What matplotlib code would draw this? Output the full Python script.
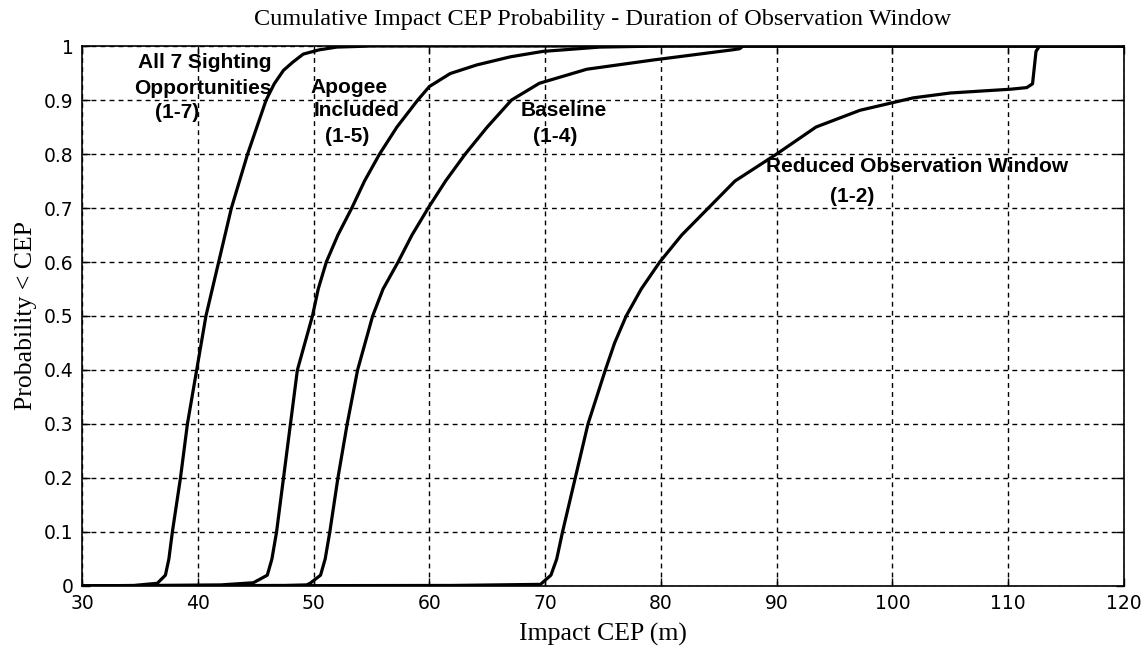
import numpy as np
import matplotlib
matplotlib.use("Agg")
import matplotlib.pyplot as plt

# CDF curves (x = Impact CEP in m, y = probability)
all7_x = [30, 34.5, 36.5, 37.2, 37.5, 37.8, 38.5, 39.1, 39.9, 40.7, 41.8, 42.9, 44.3, 45.9, 46.6, 47.4, 48.2, 49.1, 50.5, 52.0, 55.0, 120]
all7_y = [0, 0.001, 0.005, 0.02, 0.05, 0.1, 0.2, 0.3, 0.4, 0.5, 0.6, 0.7, 0.8, 0.9, 0.93, 0.955, 0.97, 0.985, 0.993, 0.998, 1, 1]

apogee_x = [30, 42.0, 44.8, 46.0, 46.4, 46.8, 47.4, 48.0, 48.6, 49.9, 50.4, 51.1, 52.1, 53.3, 54.4, 55.7, 57.2, 59.0, 60.0, 61.8, 64.1, 67.0, 69.8, 74.7, 80.0, 120]
apogee_y = [0, 0.002, 0.006, 0.02, 0.05, 0.1, 0.2, 0.3, 0.4, 0.5, 0.55, 0.6, 0.65, 0.7, 0.75, 0.8, 0.85, 0.9, 0.925, 0.949, 0.965, 0.98, 0.99, 0.998, 1, 1]

baseline_x = [30, 47.5, 49.4, 49.7, 50.6, 51.0, 51.4, 52.1, 52.9, 53.8, 55.1, 56.0, 57.3, 58.5, 59.9, 61.4, 63.1, 65.0, 67.1, 69.5, 73.6, 79.3, 86.2, 86.8, 87.1, 120]
baseline_y = [0, 0.001, 0.002, 0.005, 0.02, 0.05, 0.1, 0.2, 0.3, 0.4, 0.5, 0.55, 0.6, 0.65, 0.7, 0.75, 0.8, 0.85, 0.9, 0.931, 0.957, 0.974, 0.993, 0.995, 1, 1]

reduced_x = [30, 62.0, 69.6, 70.5, 71.0, 71.5, 72.6, 73.7, 75.2, 76.0, 77.0, 78.3, 79.9, 81.8, 84.1, 86.4, 90.0, 93.4, 97.2, 99.8, 101.8, 105.0, 110.2, 111.6, 112.1, 112.4, 112.7, 120]
reduced_y = [0, 0.001, 0.003, 0.02, 0.05, 0.1, 0.2, 0.3, 0.4, 0.45, 0.5, 0.55, 0.6, 0.65, 0.7, 0.75, 0.8, 0.85, 0.881, 0.894, 0.904, 0.913, 0.92, 0.923, 0.93, 0.99, 1, 1]

x_ticks = [30, 40, 50, 60, 70, 80, 90, 100, 110, 120]
y_ticks = [0, 0.1, 0.2, 0.3, 0.4, 0.5, 0.6, 0.7, 0.8, 0.9, 1]
y_tick_labels = ["0", "0.1", "0.2", "0.3", "0.4", "0.5", "0.6", "0.7", "0.8", "0.9", "1"]

serif = "Liberation Serif"
sans = "Liberation Sans"

fig = plt.figure(figsize=(11.46, 6.49), dpi=100)
ax = fig.add_axes([0.0716, 0.0971, 0.9092, 0.832])

for xs, ys in [(all7_x, all7_y), (apogee_x, apogee_y), (baseline_x, baseline_y), (reduced_x, reduced_y)]:
    ax.plot(xs, ys, color="black", lw=2.3, solid_joinstyle="round", zorder=3)

ax.set_xlim(30, 120)
ax.set_ylim(0, 1)
ax.set_xticks(x_ticks)
ax.set_yticks(y_ticks)
ax.set_yticklabels(y_tick_labels)
ax.grid(True, color="black", linestyle=(0, (3.5, 3)), lw=1.0)
ax.tick_params(direction="in", length=6, width=1, top=True, right=True,
               labelsize=13.5, pad=6)
for lab in ax.get_xticklabels() + ax.get_yticklabels():
    lab.set_fontfamily("DejaVu Sans")
for sp in ax.spines.values():
    sp.set_linewidth(1.2)

ax.set_title("Cumulative Impact CEP Probability - Duration of Observation Window",
             fontfamily=serif, fontsize=17.5, pad=15)
ax.set_xlabel("Impact CEP (m)", fontfamily=serif, fontsize=18.5, labelpad=7)
ax.set_ylabel("Probability < CEP", fontfamily=serif, fontsize=18.5, labelpad=5)

# curve annotations
lbl = dict(fontfamily=sans, fontweight="bold", fontsize=15, ha="center", va="center")
ax.text(40.6, 0.969, "All 7 Sighting", **lbl)
ax.text(40.4, 0.922, "Opportunities", **lbl)
ax.text(38.2, 0.876, "(1-7)", **lbl)
ax.text(53.1, 0.924, "Apogee", **lbl)
ax.text(53.7, 0.880, "Included", **lbl)
ax.text(52.9, 0.832, "(1-5)", **lbl)
ax.text(71.6, 0.881, "Baseline", **lbl)
ax.text(70.9, 0.832, "(1-4)", **lbl)
ax.text(102.1, 0.777, "Reduced Observation Window", **lbl)
ax.text(96.5, 0.721, "(1-2)", **lbl)

fig.savefig("out.png", dpi=100)
